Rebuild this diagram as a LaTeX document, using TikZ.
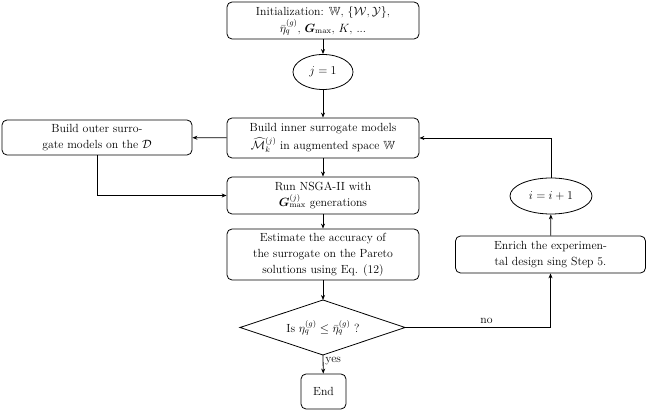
\documentclass[tikz,border=0pt]{standalone}
\usepackage{amsmath,amssymb,bm}
\usetikzlibrary{shapes.geometric,arrows.meta}
\begin{document}
\begin{tikzpicture}[x=1pt,y=-1pt,
  font=\fontsize{11.8}{16}\selectfont,
  box/.style={draw,thick,rounded corners=5pt,align=center,inner sep=0pt},
  ell/.style={draw,thick,ellipse,inner sep=0pt},
  arr/.style={thick,-{Stealth[length=5pt,width=4pt]}}]
\useasboundingbox (0,0) rectangle (646,411);
\node[box,minimum width=192,minimum height=37] (init) at (323,20.5) {Initialization: $\mathbb{W}$, $\{\mathcal{W},\mathcal{Y}\}$,\\[1pt] $\bar{\eta}_q^{(g)}$, $\bm{G}_{\max}$, $K$, ...};
\node[ell,minimum width=60,minimum height=35] (j) at (323,72) {$j=1$};
\node[box,minimum width=192,minimum height=40] (inner) at (323,138) {Build inner surrogate models\\[2pt] $\widehat{\mathcal{M}}_k^{(j)}$ in augmented space $\mathbb{W}$};
\node[box,minimum width=190,minimum height=35] (outer) at (97,137.5) {Build outer surro-\\gate models on the $\mathcal{D}$};
\node[box,minimum width=192,minimum height=37] (nsga) at (323,195.5) {Run NSGA-II with\\ $\bm{G}_{\max}^{(j)}$ generations};
\node[box,minimum width=192,minimum height=51] (est) at (323,254.5) {Estimate the accuracy of\\ the surrogate on the Pareto\\ solutions using Eq. (12)};
\coordinate (dt) at (323,300);
\coordinate (db) at (323,355);
\coordinate (dl) at (240,327.5);
\coordinate (dr) at (405,327.5);
\draw[thick] (dt) -- (dr) -- (db) -- (dl) -- cycle;
\node (dia) at (323,327.5) {Is $\eta_q^{(g)}\le\bar{\eta}_q^{(g)}$ ?};
\node[box,minimum width=45,minimum height=35] (end) at (323.5,391.5) {End};
\node[box,minimum width=190,minimum height=37] (enr) at (550.5,254.5) {Enrich the experimen-\\tal design sing Step 5.};
\node[ell,minimum width=82,minimum height=36] (i) at (551,196) {$i=i+1$};
\draw[arr] (init) -- (j);
\draw[arr] (j) -- (inner);
\draw[arr] (inner) -- (outer);
\draw[arr] (outer.south) |- (nsga.west);
\draw[arr] (inner) -- (nsga);
\draw[arr] (nsga) -- (est);
\draw[arr] (est) -- (dt);
\draw[arr] (db) -- node[right,pos=0.3,inner sep=2pt]{yes} (end);
\draw[arr] (dr) -| node[above,pos=0.28]{no} (enr.south);
\draw[arr] (enr) -- (i);
\draw[arr] (i.north) |- (inner.east);
\end{tikzpicture}
\end{document}
